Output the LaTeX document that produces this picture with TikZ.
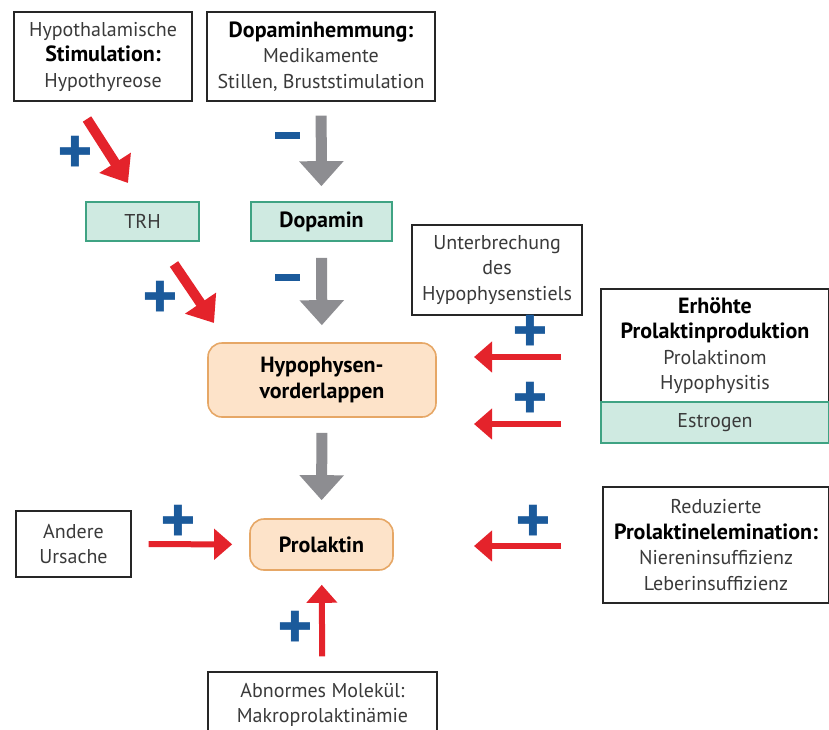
\documentclass[tikz,border=0pt]{standalone}
\usepackage{fontspec}
\setmainfont{PT Sans}
\usetikzlibrary{arrows.meta}
\definecolor{arrowred}{HTML}{E4232B}
\definecolor{arrowgray}{HTML}{8D8D91}
\definecolor{signblue}{HTML}{1B5A9B}
\definecolor{tealfill}{HTML}{CFEAE1}
\definecolor{tealline}{HTML}{3FA383}
\definecolor{orangefill}{HTML}{FDE3C9}
\definecolor{orangeline}{HTML}{E6A766}
\definecolor{textgray}{HTML}{3A3A3A}
\newcommand{\hl}[1]{{\fontsize{11}{12.75}\selectfont\bfseries\color{black}#1}}
\begin{document}
\begin{tikzpicture}[x=0.5pt,y=-0.5pt,
    every node/.style={font=\fontsize{10}{12.75}\selectfont, text=textgray, align=center, inner sep=0pt},
    box/.style={draw=black!85, line width=0.6pt, fill=white},
    hormone/.style={draw=tealline, fill=tealfill, line width=0.8pt},
    organ/.style={draw=orangeline, fill=orangefill, line width=0.8pt, rounded corners=7pt},
    redarrow/.style={draw=arrowred, line width=3pt, -{Triangle[width=15pt,length=9pt]}},
    diagarrow/.style={draw=arrowred, line width=5pt, -{Triangle[width=18pt,length=12pt]}},
    grayarrow/.style={draw=arrowgray, line width=5.5pt, -{Triangle[width=21.5pt,length=12.5pt]}},
    plus/.style={text=signblue, font=\fontsize{34}{34}\selectfont\bfseries},
    minusbar/.style={fill=signblue, minimum width=12.5pt, minimum height=3.5pt}]
            \useasboundingbox (0,0) rectangle (829,729);

            % top boxes
            \node[box, minimum width=89pt, minimum height=44.5pt] (hypothal) at (103,56.5)
                {Hypothalamische\\\hl{Stimulation:}\\Hypothyreose};
            \node[box, minimum width=114pt, minimum height=44.5pt] (dophemm) at (321,56.5)
                {\hl{Dopaminhemmung:}\\Medikamente\\Stillen, Bruststimulation};

            % hormones
            \node[hormone, minimum width=56.5pt, minimum height=19.5pt] (trh) at (142.5,221.5) {TRH};
            \node[hormone, minimum width=70.5pt, minimum height=19.5pt] (dopamin) at (321.5,221.5) {\hl{Dopamin}};

            % pituitary and prolactin
            \node[organ, minimum width=114pt, minimum height=37pt] (hvl) at (322,380) {\hl{Hypophysen-}\\\hl{vorderlappen}};
            \node[organ, minimum width=71.5pt, minimum height=25.5pt] (prolaktin) at (321.5,544.5) {\hl{Prolaktin}};

            % right boxes
            \node[box, minimum width=85pt, minimum height=45pt] (stiel) at (497,270)
                {Unterbrechung\\des\\Hypophysenstiels};
            \node[box, minimum width=114pt, minimum height=56.5pt] (produktion) at (715,345.5)
                {\hl{Erhöhte}\\\hl{Prolaktinproduktion}\\Prolaktinom\\Hypophysitis};
            \node[hormone, draw=tealline, minimum width=114pt, minimum height=20.5pt] (estrogen) at (715,422.5) {Estrogen};
            \node[box, minimum width=113pt, minimum height=58pt] (elimination) at (716,545)
                {Reduzierte\\\hl{Prolaktinelemination:}\\Niereninsuffizienz\\Leberinsuffizienz};

            % lower boxes
            \node[box, minimum width=57.5pt, minimum height=33pt] (andere) at (73.5,544) {Andere\\Ursache};
            \node[box, minimum width=114.5pt, minimum height=33pt] (abnorm) at (322.5,705)
                {Abnormes Molekül:\\Makroprolaktinämie};

            % free ends of the red arrows
            \coordinate (trhA) at (87,119);
            \coordinate (trhB) at (128,183);
            \coordinate (hvlA) at (174,264);
            \coordinate (hvlB) at (214,323);
            \coordinate (stielA) at (561,357);
            \coordinate (stielB) at (474,357);
            \coordinate (estroA) at (561,424);
            \coordinate (estroB) at (474,424);
            \coordinate (elimA) at (561,546);
            \coordinate (elimB) at (474,546);

            % gray arrows
            \draw[grayarrow, shorten <=7pt, shorten >=7.5pt] (dophemm) -- (dopamin);
            \draw[grayarrow, shorten <=8pt, shorten >=8.5pt] (dopamin) -- (hvl);
            \draw[grayarrow, shorten <=7.5pt, shorten >=9pt] (hvl) -- (prolaktin);

            % red arrows
            \draw[diagarrow] (trhA) -- (trhB);
            \draw[diagarrow] (hvlA) -- (hvlB);
            \draw[redarrow] (stielA) -- (stielB);
            \draw[redarrow] (estroA) -- (estroB);
            \draw[redarrow] (elimA) -- (elimB);
            \draw[redarrow, shorten <=8.5pt, shorten >=8.5pt] (andere) -- (prolaktin);
            \draw[redarrow, shorten <=7.5pt, shorten >=7pt] (abnorm) -- (prolaktin);

            % signs
            \node[plus] (p1) at (75,155) {+};
            \node[plus] (p2) at (160,300) {+};
            \node[plus] (p3) at (530,334) {+};
            \node[plus] (p4) at (530,401) {+};
            \node[plus] (p5) at (178,524) {+};
            \node[plus] (p6) at (533,524) {+};
            \node[plus] (p7) at (295,630) {+};
            \node[minusbar] (m1) at (287,135) {};
            \node[minusbar] (m2) at (287,277) {};
        \end{tikzpicture}
\end{document}
